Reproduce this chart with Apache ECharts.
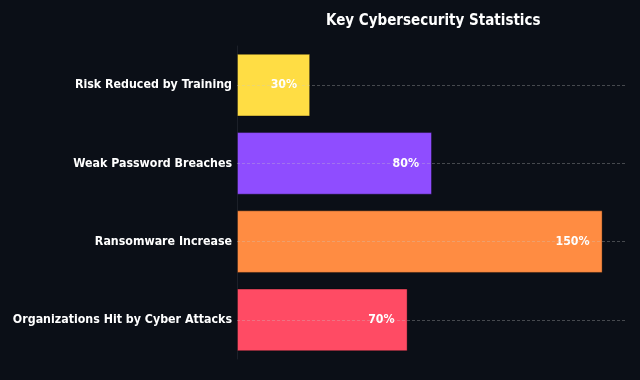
<!DOCTYPE html>
<html><head><meta charset="utf-8">
<script src="https://cdn.jsdelivr.net/npm/echarts@6/dist/echarts.min.js"></script>
<style>html,body{margin:0;padding:0;background:#0b0f17;}#c{width:640px;height:380px;}</style>
</head><body><div id="c"></div>
<script>
var categories = ['Organizations Hit by Cyber Attacks', 'Ransomware Increase', 'Weak Password Breaches', 'Risk Reduced by Training'];
var values = [70, 150, 80, 30];
var colors = ['#FF4B64', '#FF8C42', '#8F4DFF', '#FFDD44'];
var title = 'Key Cybersecurity Statistics';
var FONT = '"DejaVu Sans Condensed", "DejaVu Sans", sans-serif';
var chart = echarts.init(document.getElementById('c'), null, {renderer: 'canvas'});
chart.setOption({
  backgroundColor: '#0b0f17',
  animation: false,
  title: {text: title, left: 321, top: 9,
    textStyle: {color: '#ffffff', fontFamily: FONT, fontWeight: 'bold', fontSize: 15}},
  grid: {left: 237, right: 13, top: 46, bottom: 21, containLabel: false},
  xAxis: {type: 'value', min: 0, max: 160, show: false, splitLine: {show: false}},
  yAxis: {type: 'category', data: categories,
    axisLine: {show: true, lineStyle: {color: '#1c2029', width: 1}},
    axisTick: {show: false},
    splitLine: {show: false},
    axisLabel: {color: '#ffffff', fontFamily: FONT, fontWeight: 'bold', fontSize: 12.3, margin: 5, padding: [4, 0, 0, 0]}},
  series: [{
    type: 'bar', barWidth: '80%',
    data: values.map(function (v, i) { return {value: v, itemStyle: {color: colors[i]}}; }),
    itemStyle: {borderColor: 'rgba(0,0,0,0.35)', borderWidth: 1},
    label: {show: true, position: 'insideRight', distance: 13, formatter: '{c}%',
      color: '#ffffff', fontFamily: FONT, fontWeight: 'bold', fontSize: 12.3},
    markLine: {silent: true, symbol: 'none', label: {show: false},
      lineStyle: {type: [3, 2], color: 'rgba(200,200,200,0.45)', width: 0.7},
      data: categories.map(function (c) { return {yAxis: c}; })},
    z: 2
  }]
});
</script></body></html>
